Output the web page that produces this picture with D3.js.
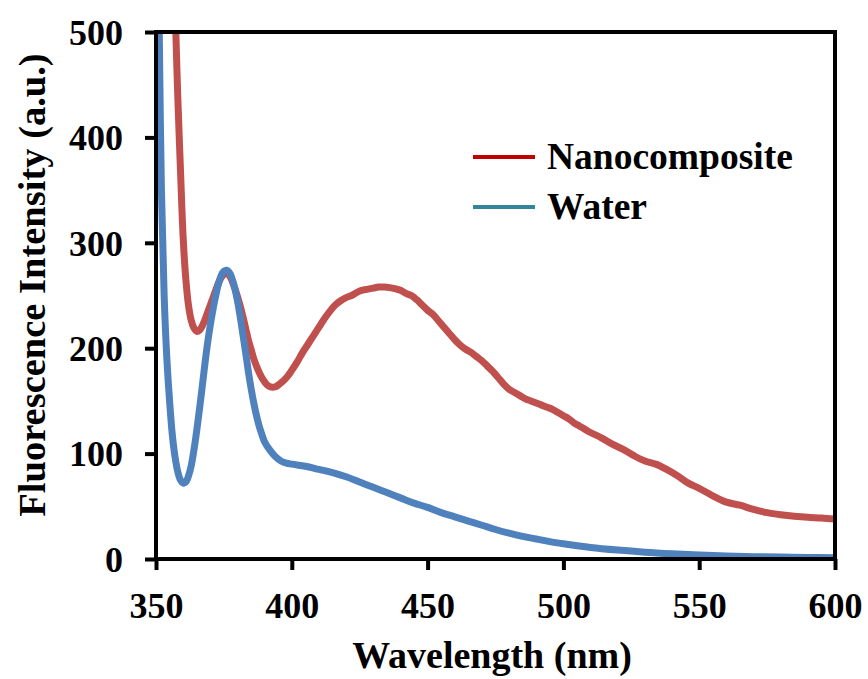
<!DOCTYPE html>
<html>
<head>
<meta charset="utf-8">
<script src="https://cdn.jsdelivr.net/npm/d3@7/dist/d3.min.js"></script>
<style>
  html, body { margin: 0; padding: 0; background: #fff; }
  svg { display: block; }
  text { font-family: "Liberation Serif", "Times New Roman", serif; font-weight: bold; fill: #000; }
</style>
</head>
<body>
<svg id="chart" width="868" height="679"></svg>
<script>
// Emission spectra (wavelength in nm, intensity in a.u.)
const nanoWavelength = [357.3,358,359,360,361,362,363,364,365,366,367,368,369,370,371,372,373,374,375,376,377,378,379,380,381,382,383,384,385,386,387,388,389,390,391,392,393,394,395,396,398,400,402,404,406,408,410,412,414,416,418,420,422,424,426,428,430,432,434,436,438,440,442,444,446,448,450,452,454,456,458,460,462,464,466,468,470,472,474,476,478,480,482,484,486,488,490,492,494,496,498,500,502,504,506,508,510,514,518,522,526,530,534,538,542,546,550,555,560,565,570,575,580,585,590,595,600];
const nanoIntensity = [500,440,370,305,265,240,226,219,216,217,221,227,234,241,248,255,262,267,270,271,269,264,257,249,240,230,219,208,199,190,183,177,172,168,165,163.5,163,163.5,165,167,172,179,187,196,204,212,220,228,235,241,245,248,250,253,255,256,257,258,258,257.5,256.5,255,252,250,246,241,236,232,226,220,214,208,203,199,196,192,188,183,178,172,166,161,158,155,152,150,148,146,144,142,139,136,133,129,126,123,120,115,109,104,98,93,90,85,79,72,67,60,54,51,47,44,42,40.5,39.5,39,38];

const waterWavelength = [351.2,352,353,354,355,356,357,358,359,360,361,362,363,364,365,366,367,368,369,370,371,372,373,374,375,376,377,378,379,380,381,382,383,384,385,386,387,388,389,390,392,394,396,398,400,405,410,415,420,425,430,435,440,445,450,455,460,465,470,475,480,485,490,495,500,510,520,530,540,550,560,570,580,590,600];
const waterIntensity = [500,350,250,190,150,118,97,83,75,72,73,79,89,104,122,142,163,185,205,222,237,250,261,269,273,274,272,266,257,245,230,213,196,178,162,148,136,126,118,111,103,97,93,91,90,88,85,82,78,73,68,63,58,53,49,44,40,36,32,28,24.5,21.5,19,16.5,14.5,11,8.5,6.5,5,3.8,2.8,2.2,1.8,1.5,1.3];

const xTicks = [350,400,450,500,550,600];
const yTicks = [0,100,200,300,400,500];
const seriesNames = ["Nanocomposite","Water"];
const lineColors = ["#C0504D","#4F81BD"];
const legendColors = ["#C00000","#31859C"];

const svg = d3.select("#chart");
const plotLeft = 156, plotRight = 835, plotTop = 32, plotBottom = 559;

const x = d3.scaleLinear().domain([350,600]).range([plotLeft,plotRight]);
const y = d3.scaleLinear().domain([0,500]).range([plotBottom,plotTop]);

svg.append("defs").append("clipPath").attr("id","plotClip")
  .append("rect").attr("x",plotLeft).attr("y",plotTop)
  .attr("width",plotRight-plotLeft).attr("height",plotBottom-plotTop);

const line = d3.line()
  .x(d => x(d[0])).y(d => y(d[1]))
  .curve(d3.curveCatmullRom.alpha(0.5));

const series = [
  d3.zip(nanoWavelength, nanoIntensity),
  d3.zip(waterWavelength, waterIntensity)
];

const plot = svg.append("g").attr("clip-path","url(#plotClip)");
// Nanocomposite drawn first, water on top
series.forEach((s,i) => {
  plot.append("path").datum(s)
    .attr("d", line)
    .attr("fill","none")
    .attr("stroke", lineColors[i])
    .attr("stroke-width",7)
    .attr("stroke-linejoin","round")
    .attr("stroke-linecap","butt");
});

// Frame: top and right borders
svg.append("line").attr("x1",plotLeft).attr("x2",plotRight).attr("y1",plotTop).attr("y2",plotTop)
  .attr("stroke","#000").attr("stroke-width",4);
svg.append("line").attr("x1",plotRight).attr("x2",plotRight).attr("y1",plotTop-2).attr("y2",plotBottom)
  .attr("stroke","#000").attr("stroke-width",4);

// Axes
const xAxis = svg.append("g").attr("transform",`translate(0,${plotBottom})`)
  .call(d3.axisBottom(x).tickValues(xTicks).tickSize(11).tickSizeOuter(0).tickFormat(d3.format("d")));
const yAxis = svg.append("g").attr("transform",`translate(${plotLeft},0)`)
  .call(d3.axisLeft(y).tickValues(yTicks).tickSize(11).tickSizeOuter(0).tickFormat(d3.format("d")));

[xAxis, yAxis].forEach(a => {
  a.select(".domain").attr("stroke","#000").attr("stroke-width",4);
  a.selectAll(".tick line").attr("stroke","#000").attr("stroke-width",4);
  a.selectAll(".tick text")
    .style("font-family","'Liberation Serif', 'Times New Roman', serif")
    .style("font-weight","bold").style("font-size","36px").attr("fill","#000");
});
xAxis.select(".domain").attr("d",`M${plotLeft-2},0H${plotRight+2}`);
yAxis.select(".domain").attr("d",`M0,${plotBottom+2}V${plotTop-2}`);
xAxis.selectAll(".tick text").attr("dy","0.71em").attr("y",33);
yAxis.selectAll(".tick text").attr("dy","0.34em").attr("x",-33);

// Axis titles
svg.append("text")
  .attr("x", 492).attr("y", 668)
  .attr("text-anchor","middle")
  .style("font-size","38px")
  .text("Wavelength (nm)");
svg.append("text")
  .attr("transform","translate(45,285) rotate(-90)")
  .attr("text-anchor","middle")
  .style("font-size","38.5px")
  .text("Fluorescence Intensity (a.u.)");

// Legend
const legend = svg.append("g");
seriesNames.forEach((name,i) => {
  const ly = 157 + i*50;
  legend.append("line")
    .attr("x1",473).attr("x2",535).attr("y1",ly).attr("y2",ly)
    .attr("stroke",legendColors[i]).attr("stroke-width",4);
  legend.append("text")
    .attr("x",547).attr("y",ly+12)
    .style("font-size","37.5px")
    .text(name);
});
</script>
</body>
</html>
